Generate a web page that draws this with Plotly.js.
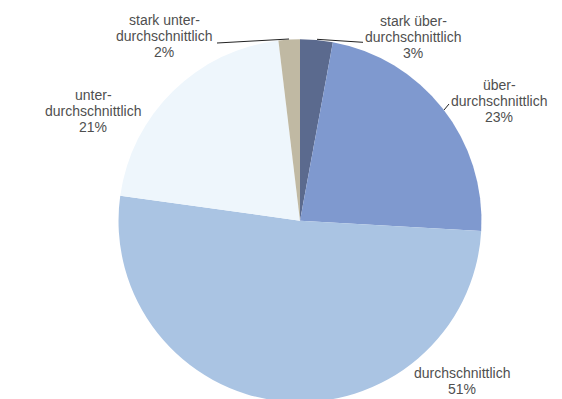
<!DOCTYPE html>
<html>
<head>
<meta charset="utf-8">
<script src="https://cdn.plot.ly/plotly-3.0.1.min.js"></script>
<style>
html,body{margin:0;padding:0;overflow:hidden;background:#fff;}
#chart{width:562px;height:403px;}
</style>
</head>
<body>
<div id="chart"></div>
<script>
// ---- data ----
var categories = ['stark über-|durchschnittlich', 'über-|durchschnittlich', 'durchschnittlich', 'unter-|durchschnittlich', 'stark unter-|durchschnittlich'];
var values = [2.9, 23.0, 51.3, 20.9, 1.9];
var percentLabels = ['3%', '23%', '51%', '21%', '2%'];
var colors = ['#5b6a8e', '#7f99cf', '#aac4e3', '#eef6fc', '#c0b9a3'];

// ---- layout helpers (pixel positions of labels) ----
var W = 562, H = 403;
var labelPos = [ // center x, first line y (px from top)
  [413, 21], [499, 85], [462, 373], [93, 95], [164, 20]
];
var lineGap = 16;
function px(x){ return x / W; }
function py(y){ return (H - y) / H; }

var annotations = [];
categories.forEach(function(c, i){
  var lines = c.split('|').concat([percentLabels[i]]);
  lines.forEach(function(t, j){
    annotations.push({
      xref:'paper', yref:'paper',
      x: px(labelPos[i][0]), y: py(labelPos[i][1] + j*lineGap),
      xanchor:'center', yanchor:'middle',
      text: t, showarrow:false,
      font:{family:'Liberation Sans, Arial, sans-serif', size:14, color:'#4f4f4f'}
    });
  });
});

var leaders = [
  [[317,39.3],[363,42.3]],
  [[444,110],[449,104]],
  [[289,39],[217,43]]
];
var shapes = leaders.map(function(l){
  return {type:'line', xref:'paper', yref:'paper',
    x0:px(l[0][0]), y0:py(l[0][1]), x1:px(l[1][0]), y1:py(l[1][1]),
    line:{color:'#222', width:1}};
});

var trace = {
  type:'pie',
  labels: categories.map(function(c){ return c.replace('|',''); }),
  values: values,
  sort:false,
  direction:'clockwise',
  rotation:0,
  textinfo:'none',
  hoverinfo:'label+percent',
  marker:{colors:colors, line:{width:0}},
  domain:{x:[118.5/W, 481.5/W], y:[0.002, 0.9027]},
  showlegend:false
};

Plotly.newPlot('chart', [trace], {
  width:W, height:H,
  margin:{l:0,r:0,t:0,b:0},
  paper_bgcolor:'#fff',
  showlegend:false,
  annotations:annotations,
  shapes:shapes
}, {displayModeBar:false, staticPlot:true});
</script>
</body>
</html>
